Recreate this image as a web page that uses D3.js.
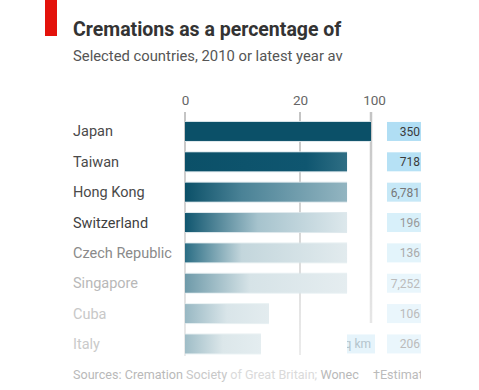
<!DOCTYPE html>
<html><head><meta charset="utf-8">
<script src="https://cdn.jsdelivr.net/npm/d3@7/dist/d3.min.js"></script>
<style>
html,body{margin:0;padding:0;background:#fff;}
svg{display:block;}
text{font-family:Roboto,"Open Sans",sans-serif;}
</style></head>
<body>
<script>
// ---- data ----
const countries = ["Japan","Taiwan","Hong Kong","Switzerland","Czech Republic","Singapore","Cuba","Italy"];
const cremationPct = [100, 73, 73, 73, 73, 73, 14.6, 13.2];
const sideValues = ["350","718","6,781","196","136","7,252","106","206"];
const axisTicks = [0, 20, 100];
const title = "Cremations as a percentage of";
const subtitle = "Selected countries, 2010 or latest year av";
const sideNote = "sq km";

// ---- styles (per row, fading downward) ----
const labelColors = ["#4a4a4a","#4a4a4a","#4a4a4a","#3f3f3f","#8a8a8a","#b8b8b8","#c8c8c8","#cacaca"];
const boxColors = ["#b0def4","#b6e1f5","#c6e8f7","#d8f0fa","#e3f4fb","#e9f6fc","#eaf6fc","#eaf6fc"];
const numColors = ["#3a3a3a","#3a3a3a","#777","#999","#aaa","#bbb","#bbb","#bbb"];
const barStops = [
  [[0,"#0b5068"],[1,"#0b5068"]],
  [[0,"#0b5068"],[0.75,"#0f5670"],[1,"#2f6e84"]],
  [[0,"#0b5068"],[0.35,"#4a8296"],[1,"#93b5c1"]],
  [[0,"#10566f"],[0.45,"#a6c3cd"],[1,"#dde8ec"]],
  [[0,"#2a6d84"],[0.35,"#c3d6dc"],[1,"#e2ebee"]],
  [[0,"#6e9aa9"],[0.4,"#d6e3e7"],[1,"#e5edf0"]],
  [[0,"#98b8c3"],[0.5,"#d9e5e9"],[1,"#e3ecef"]],
  [[0,"#9fbdc7"],[0.5,"#dce7ea"],[1,"#e4edf0"]]
];

const W = 479, H = 390;
const svg = d3.select("body").append("svg").attr("width", W).attr("height", H);
const defs = svg.append("defs");

defs.append("clipPath").attr("id","clipTitle").append("rect")
  .attr("x",0).attr("y",0).attr("width",344).attr("height",80);
defs.append("clipPath").attr("id","clipAll").append("rect")
  .attr("x",0).attr("y",0).attr("width",421).attr("height",H);

// red tag
svg.append("rect").attr("x",45).attr("y",0).attr("width",12).attr("height",36).attr("fill","#e3120b");

const tg = svg.append("g").attr("clip-path","url(#clipTitle)");
tg.append("text").attr("x",73).attr("y",36).attr("font-size",19.5).attr("font-weight",700)
  .attr("fill","#333").text(title);
tg.append("text").attr("x",73).attr("y",61).attr("font-size",14.8).attr("fill","#555").text(subtitle);

const main = svg.append("g").attr("clip-path","url(#clipAll)");

// scales
const x = d3.scaleLinear().domain([0,20,100]).range([185,300,371]);
const y = d3.scaleBand().domain(countries).range([110.6,364.8]).paddingInner(0.374).paddingOuter(0.374);

// gridlines gradient
const gg = defs.append("linearGradient").attr("id","gridGrad").attr("gradientUnits","userSpaceOnUse")
  .attr("x1",0).attr("y1",112).attr("x2",0).attr("y2",356);
gg.append("stop").attr("offset",0).attr("stop-color","#c4c4c4");
gg.append("stop").attr("offset",1).attr("stop-color","#ececec");

const gridBottom = {0:356, 20:355, 100:323};
main.selectAll("line.grid").data(axisTicks).join("line").attr("class","grid")
  .attr("x1",d=>x(d)).attr("x2",d=>x(d)).attr("y1",112).attr("y2",d=>gridBottom[d])
  .attr("stroke","url(#gridGrad)").attr("stroke-width",d=>d===100?2.5:2);

// axis labels
const axis = d3.axisTop(x).tickValues(axisTicks).tickSize(0).tickPadding(0).tickFormat(d3.format("d"));
const ag = main.append("g").attr("transform","translate(0,105)").call(axis);
ag.select(".domain").remove();
ag.selectAll("text").attr("font-size",13.5).attr("fill","#666").attr("dy",0)
  .attr("dx",d=>d===100?3:0)
  .style("font-family","Roboto,'Open Sans',sans-serif");

// bar gradients
countries.forEach((c,i)=>{
  const g = defs.append("linearGradient").attr("id","bar"+i).attr("x1",0).attr("x2",1).attr("y1",0).attr("y2",0);
  barStops[i].forEach(s=>g.append("stop").attr("offset",s[0]).attr("stop-color",s[1]));
});

// faint halo behind bars
main.selectAll("rect.halo").data(countries).join("rect").attr("class","halo")
  .attr("x",x(0)).attr("y",d=>y(d)-1).attr("height",y.bandwidth()+2)
  .attr("width",(d,i)=>x(cremationPct[i])-x(0))
  .attr("fill","#dbe7eb").attr("opacity",(d,i)=>i<4?0.9:0.6);

main.selectAll("rect.bar").data(countries).join("rect").attr("class","bar")
  .attr("x",x(0)).attr("y",d=>y(d)).attr("height",y.bandwidth())
  .attr("width",(d,i)=>x(cremationPct[i])-x(0))
  .attr("fill",(d,i)=>"url(#bar"+i+")");

// country labels
main.selectAll("text.lab").data(countries).join("text").attr("class","lab")
  .attr("x",73).attr("y",d=>y(d)+y.bandwidth()/2+5)
  .attr("font-size",14.5).attr("fill",(d,i)=>labelColors[i]).text(d=>d);

// side boxes
main.selectAll("rect.box").data(countries).join("rect").attr("class","box")
  .attr("x",387).attr("y",d=>y(d)).attr("width",36).attr("height",y.bandwidth())
  .attr("fill",(d,i)=>boxColors[i]);
main.selectAll("text.num").data(countries).join("text").attr("class","num")
  .attr("x",420).attr("y",d=>y(d)+y.bandwidth()/2+4.5).attr("text-anchor","end")
  .attr("font-size",12).attr("fill",(d,i)=>numColors[i]).text((d,i)=>sideValues[i]);

// partial "km" box on last row
const last = countries[countries.length-1];
defs.append("clipPath").attr("id","clipKm").append("rect")
  .attr("x",347).attr("y",y(last)).attr("width",28).attr("height",y.bandwidth());
main.append("rect").attr("x",347).attr("y",y(last)).attr("width",28).attr("height",y.bandwidth())
  .attr("fill","#e6f4fb");
main.append("g").attr("clip-path","url(#clipKm)").append("text")
  .attr("x",371).attr("y",y(last)+y.bandwidth()/2+4.5).attr("text-anchor","end")
  .attr("font-size",12).attr("fill","#b4c4cc").text(sideNote);

// footer
const ft = main.append("text").attr("x",73).attr("y",379).attr("font-size",12.6);
ft.append("tspan").attr("fill","#b9b9b9").text("Sources: Cremation ");
ft.append("tspan").attr("fill","#c8c8c8").text("Society ");
ft.append("tspan").attr("fill","#dadada").text("of Great Britain; ");
ft.append("tspan").attr("fill","#b9b9b9").text("Wonec");
main.append("text").attr("x",373).attr("y",379).attr("font-size",12.6).attr("fill","#bbb").text("\u2020Estimate");
</script>
</body></html>
